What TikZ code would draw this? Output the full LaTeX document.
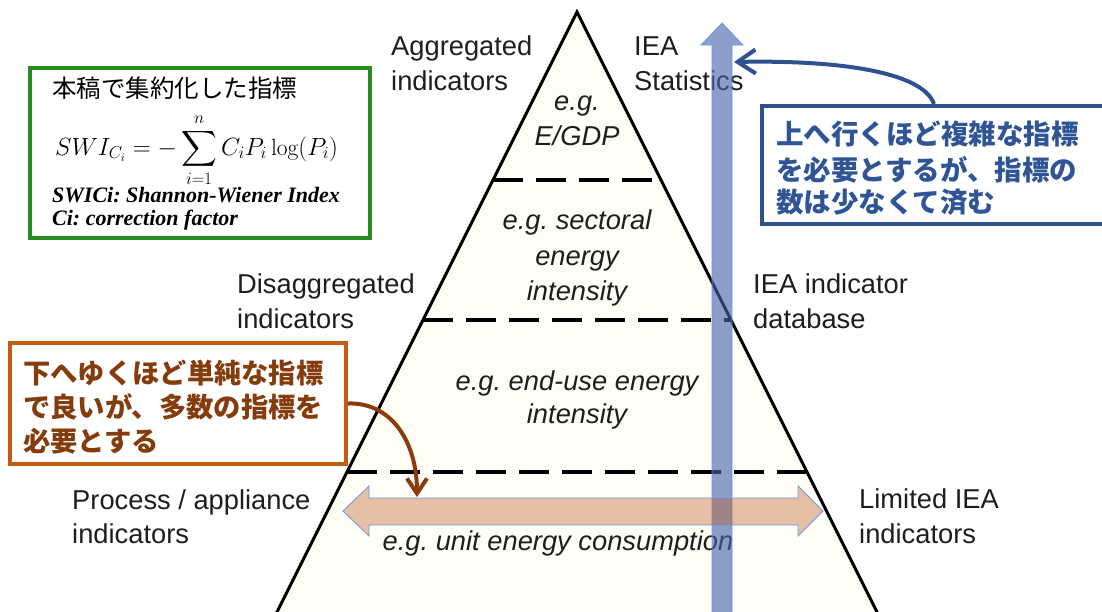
\documentclass[tikz,border=0pt]{standalone}
\usepackage{amsmath}
\usepackage{fontspec}
\newfontfamily\arial{Liberation Sans}
\newfontfamily\tnr{Liberation Serif}
\newfontfamily\jp{Noto Sans CJK JP}
\usetikzlibrary{arrows.meta}
\definecolor{cream}{RGB}{254,254,247}
\definecolor{labtxt}{RGB}{30,30,30}
\definecolor{gbord}{RGB}{40,140,30}
\definecolor{bbord}{RGB}{47,82,143}
\definecolor{btxt}{RGB}{47,85,151}
\definecolor{obord}{RGB}{197,90,17}
\definecolor{otxt}{RGB}{132,60,12}
\definecolor{oarr}{RGB}{140,60,12}
\definecolor{thinblue}{RGB}{110,150,230}
\definecolor{vblue}{RGB}{70,100,170}
\definecolor{pinkc}{RGB}{194,87,28}
\frenchspacing
\begin{document}
\begin{tikzpicture}[x=1pt,y=-1pt,
  lbl/.style={font=\arial\fontsize{27.3}{30}\selectfont, anchor=base west, inner sep=0pt, text=labtxt},
  egl/.style={font=\arial\itshape\fontsize{27.3}{30}\selectfont, anchor=base, inner sep=0pt, text=labtxt},
  jpblue/.style={font=\jp\bfseries\fontsize{27.5}{30}\selectfont, anchor=base west, inner sep=0pt, text=btxt},
  jporange/.style={font=\jp\bfseries\fontsize{27.3}{30}\selectfont, anchor=base west, inner sep=0pt, text=otxt},
  note/.style={font=\tnr\bfseries\itshape\fontsize{22}{25}\selectfont, anchor=base west, inner sep=0pt, text=black},
  layerdash/.style={line width=4pt, dash pattern=on 30pt off 13pt},
  boxframe/.style={rectangle, fill=white, inner sep=0pt}
]
\clip (0,0) rectangle (1102,611);
\fill[white] (0,0) rectangle (1102,611);

% pyramid
\coordinate (apex) at (577,12);
\coordinate (bl) at (273,620);
\coordinate (br) at (881,620);
\filldraw[fill=cream, draw=black, line width=3pt, line join=miter] (apex) -- (bl) -- (br) -- cycle;
\coordinate (d1l) at (493,180); \coordinate (d1r) at (661,180);
\coordinate (d2l) at (423,320); \coordinate (d2r) at (731,320);
\coordinate (d3l) at (347,472); \coordinate (d3r) at (807,472);
\draw[layerdash] (d1l) -- (d1r);
\draw[layerdash] (d2l) -- (d2r);
\draw[layerdash] (d3l) -- (d3r);

% texts in pyramid
\node[egl] (t1a) at (577,110) {e.g.};
\node[egl] (t1b) at (577,145) {E/GDP};
\node[egl] (t2a) at (577,229) {e.g. sectoral};
\node[egl] (t2b) at (577,265) {energy};
\node[egl] (t2c) at (577,300) {intensity};
\node[egl] (t3a) at (577,390) {e.g. end-use energy};
\node[egl] (t3b) at (577,423) {intensity};
\node[egl] (t4a) at (558,550) {e.g. unit energy consumption};

% side labels
\node[lbl] (agg1) at (391,55) {Aggregated};
\node[lbl] (agg2) at (391,90) {indicators};
\node[lbl] (iea1) at (634,55) {IEA};
\node[lbl] (iea2) at (634,90) {Statistics};
\node[lbl] (dis1) at (237,293) {Disaggregated};
\node[lbl] (dis2) at (237,328) {indicators};
\node[lbl] (db1) at (753,293) {IEA indicator};
\node[lbl] (db2) at (753,328) {database};
\node[lbl] (pr1) at (72,509) {Process / appliance};
\node[lbl] (pr2) at (72,543) {indicators};
\node[lbl] (li1) at (859,508) {Limited IEA};
\node[lbl] (li2) at (859,543) {indicators};

% vertical blue arrow
\filldraw[fill=vblue, fill opacity=0.62, draw=thinblue, line width=0.8pt]
  (712,625) -- (712,45) -- (701,45) -- (722,23) -- (743,45) -- (732,45) -- (732,625) -- cycle;

% horizontal double arrow
\filldraw[fill=pinkc, fill opacity=0.374, draw=thinblue, line width=0.8pt]
  (343,511) -- (369,486) -- (369,498) -- (798,498) -- (798,486) -- (823,511)
  -- (798,536) -- (798,525) -- (369,525) -- (369,536) -- cycle;

% green formula box
\node[boxframe, draw=gbord, line width=4pt, minimum width=340pt, minimum height=170pt] (gbox) at (200,153) {};
\node[font=\jp\fontsize{24.5}{28}\selectfont, anchor=base west, inner sep=0pt, text depth=2pt] (gtitle) at (52,97) {本稿で集約化した指標};
\node[anchor=base west, inner sep=0pt, font=\fontsize{23.5}{28}\selectfont] (formula) at (55,155)
  {$\displaystyle SWI_{C_i} = -\sum_{i=1}^{n} C_i P_i \log(P_i)$};
\node[note, text height=14pt] (n1) at (52,202) {SWICi: Shannon-Wiener Index};
\node[note] (n2) at (52,225) {Ci: correction factor};

% blue callout
\node[boxframe, draw=bbord, line width=4pt, minimum width=344pt, minimum height=118pt] (bbox) at (934,165) {};
\node[jpblue] (b1) at (776,144.5) {上へ行くほど複雑な指標};
\node[jpblue] (b2) at (776,180) {を必要とするが、指標の};
\node[jpblue] (b3) at (776,212.5) {数は少なくて済む};
\coordinate (btip) at (734,62);
\draw[bbord, line width=4pt, -{Straight Barb[length=18pt,width=24pt]}]
  (bbox.north) .. controls (922,70) and (830,60) .. (btip);

% orange callout
\node[boxframe, draw=obord, line width=4pt, minimum width=336pt, minimum height=121pt] (obox) at (178,403.5) {};
\node[jporange] (o1) at (23,383.5) {下へゆくほど単純な指標};
\node[jporange] (o2) at (23,417.5) {で良いが、多数の指標を};
\node[jporange] (o3) at (23,451.5) {必要とする};
\coordinate (otip) at (417,497);
\draw[oarr, line width=4pt, -{Straight Barb[length=15pt,width=20pt]}]
  (obox.east) .. controls (390,402) and (417,440) .. (otip);
\end{tikzpicture}
\end{document}
